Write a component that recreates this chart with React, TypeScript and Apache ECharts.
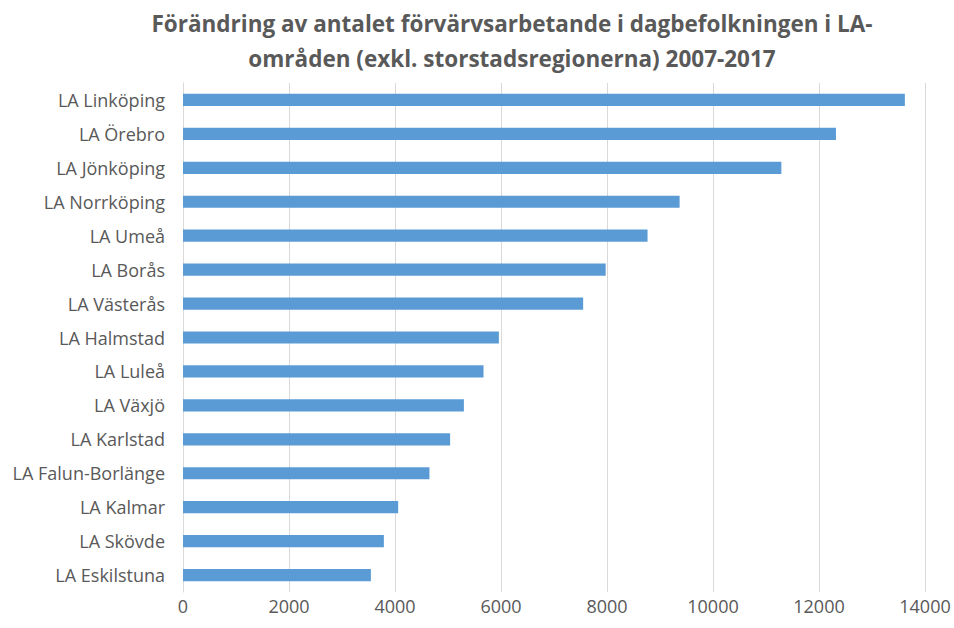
import React, { useEffect, useRef } from "react";
import * as echarts from "echarts";

const categories = [
  "LA Linköping",
  "LA Örebro",
  "LA Jönköping",
  "LA Norrköping",
  "LA Umeå",
  "LA Borås",
  "LA Västerås",
  "LA Halmstad",
  "LA Luleå",
  "LA Växjö",
  "LA Karlstad",
  "LA Falun-Borlänge",
  "LA Kalmar",
  "LA Skövde",
  "LA Eskilstuna",
];

const values = [13620, 12320, 11290, 9370, 8765, 7975, 7550, 5960, 5670, 5300, 5040, 4650, 4060, 3790, 3545];

const xTicks = { min: 0, max: 14000, interval: 2000 };

const titleText =
  "Förändring av antalet förvärvsarbetande i dagbefolkningen i LA-\nområden (exkl. storstadsregionerna) 2007-2017";

export default function App() {
  const ref = useRef<HTMLDivElement>(null);
  useEffect(() => {
    if (!ref.current) return;
    const chart = echarts.init(ref.current, undefined, { renderer: "svg" });
    chart.setOption({
      animation: false,
      backgroundColor: "#ffffff",
      title: {
        text: titleText,
        left: 507,
        textAlign: "center",
        top: 1,
        textStyle: {
          fontFamily: "Open Sans",
          fontWeight: "bold",
          fontSize: 22.5,
          color: "#595959",
          lineHeight: 35,
        },
      },
      grid: { left: 183, right: 29, top: 83, bottom: 36, containLabel: false },
      xAxis: {
        type: "value",
        min: xTicks.min,
        max: xTicks.max,
        interval: xTicks.interval,
        axisLine: { show: false },
        axisTick: { show: false },
        splitLine: { show: true, lineStyle: { color: "#d9d9d9", width: 1 } },
        axisLabel: {
          color: "#595959",
          fontSize: 18,
          fontFamily: "Open Sans",
          margin: 5,
          formatter: (v: number) => String(v),
        },
      },
      yAxis: {
        type: "category",
        data: categories,
        inverse: true,
        axisLine: { show: true, lineStyle: { color: "#d9d9d9", width: 1 } },
        axisTick: { show: false },
        axisLabel: { color: "#595959", fontSize: 18, fontFamily: "Open Sans", margin: 18 },
      },
      series: [
        {
          type: "bar",
          data: values,
          barCategoryGap: "64%",
          itemStyle: { color: "#5b9bd5" },
        },
      ],
    });
    return () => chart.dispose();
  }, []);
  return (
    <div
      ref={ref}
      style={{ position: "fixed", left: 0, top: 0, width: 954, height: 628 }}
    />
  );
}
